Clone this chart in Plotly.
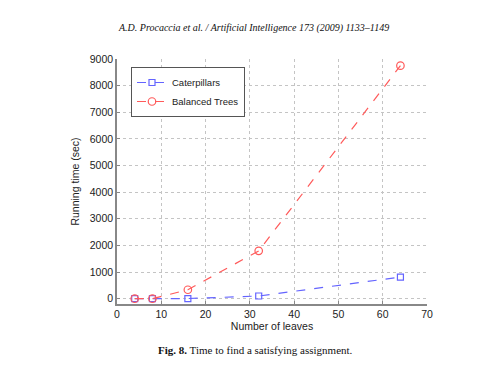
import plotly.graph_objects as go

leaves = [4, 8, 16, 32, 64]
caterpillars = [0, 0, 5, 100, 810]
balanced = [0, 0, 335, 1795, 8750]

x_ticks = [0, 10, 20, 30, 40, 50, 60, 70]
y_ticks = [0, 1000, 2000, 3000, 4000, 5000, 6000, 7000, 8000, 9000]

# page has an 8px body margin; figure is sized/offset to compensate
W, H = 492, 361
L, R, T, B = 109, 73, 51, 65.4
PW, PH = W - L - R, H - T - B


def px(xpage):
    return (xpage - 8 - L) / PW


def py(ypage):
    return (H - B - (ypage - 8)) / PH


fig = go.Figure()
fig.add_trace(go.Scatter(
    x=leaves, y=caterpillars, name="Caterpillars", mode="lines+markers",
    line=dict(color="#6464ff", dash="dash", width=1.2),
    marker=dict(symbol="square-open", size=6, color="#6464ff", line=dict(width=1.2))))
fig.add_trace(go.Scatter(
    x=leaves, y=balanced, name="Balanced Trees", mode="lines+markers",
    line=dict(color="#ff5a5a", dash="dash", width=1.2),
    marker=dict(symbol="circle-open", size=7.5, color="#ff5a5a", line=dict(width=1.2))))

fig.update_layout(
    width=W, height=H,
    margin=dict(l=L, r=R, t=T, b=B, pad=0),
    paper_bgcolor="white", plot_bgcolor="white",
    font=dict(family="Liberation Sans, Arial, sans-serif", size=10.5, color="#222"),
    showlegend=True,
    legend=dict(x=px(131), y=py(67), xanchor="left", yanchor="top",
                bordercolor="#555", borderwidth=1, bgcolor="white",
                font=dict(family="Liberation Sans, Arial, sans-serif", size=9.5, color="#222"),
                tracegroupgap=0, itemwidth=30),
    xaxis=dict(range=[0, 70], tickvals=x_ticks, showgrid=True, gridcolor="#c4c4c4",
               griddash="dot", gridwidth=1, showline=True, linecolor="#888", linewidth=1.5,
               ticks="inside", ticklen=3, tickcolor="#888", zeroline=False,
               title=dict(text="Number of leaves", standoff=2, font=dict(size=10.5))),
    yaxis=dict(range=[-200, 9000], tickvals=y_ticks, showgrid=True, gridcolor="#c4c4c4",
               griddash="dot", gridwidth=1, showline=True, linecolor="#888", linewidth=1.5,
               ticks="inside", ticklen=3, tickcolor="#888", zeroline=False,
               title=dict(text="Running time (sec)", standoff=8, font=dict(size=10.5))),
)
fig.add_annotation(text="<i>A.D. Procaccia et al. / Artificial Intelligence 173 (2009) 1133–1149</i>",
                   xref="paper", yref="paper", x=px(253), y=py(27.7),
                   showarrow=False, xanchor="center", yanchor="middle",
                   font=dict(family="Liberation Serif, serif", size=10, color="#111"))
fig.add_annotation(text="<b>Fig. 8.</b> Time to find a satisfying assignment.",
                   xref="paper", yref="paper", x=px(255), y=py(350),
                   showarrow=False, xanchor="center", yanchor="middle",
                   font=dict(family="Liberation Serif, serif", size=11, color="#111"))
fig.write_html("out.html")
